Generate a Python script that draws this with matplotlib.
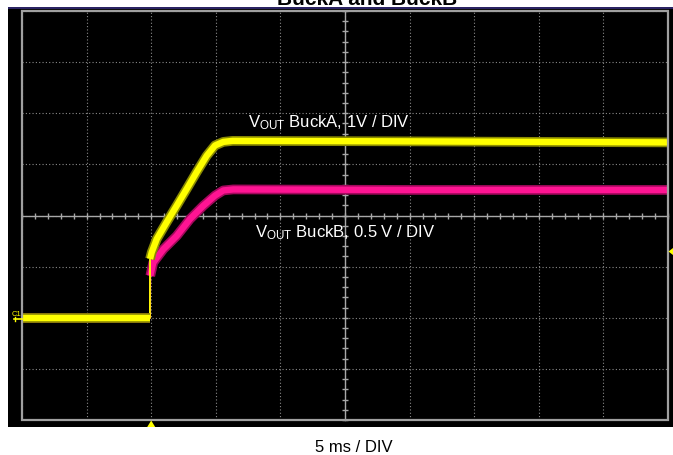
import matplotlib
matplotlib.use('Agg')
import matplotlib.pyplot as plt
from matplotlib.patches import Rectangle, Polygon
from matplotlib.ticker import MultipleLocator

plt.rcParams['font.family'] = ['Liberation Sans', 'DejaVu Sans']
plt.rcParams['mathtext.fontset'] = 'custom'
plt.rcParams['mathtext.rm'] = 'Liberation Sans'
plt.rcParams['mathtext.it'] = 'Liberation Sans:italic'
plt.rcParams['mathtext.bf'] = 'Liberation Sans:bold'

# ---- data (time in ms, amplitude in screen divisions) ----
title = "BuckA and BuckB"
x_label = "5 ms / DIV"
label_a = r"V$_{\mathrm{OUT}}$ BuckA, 1V / DIV"
label_b = r"V$_{\mathrm{OUT}}$ BuckB, 0.5 V / DIV"

time_a = [0.0, 9.90, 9.91, 10.04, 10.43, 11.20, 11.97, 12.75, 13.52, 14.30, 14.94, 15.58, 16.3, 30.0, 50.0]
buck_a = [-2.0, -2.0, -0.85, -0.72, -0.46, -0.13, 0.19, 0.52, 0.85, 1.17, 1.37, 1.44, 1.46, 1.45, 1.43]

time_b = [0.0, 9.90, 9.93, 10.16, 10.94, 11.97, 13.00, 14.03, 14.94, 15.58, 16.35, 30.0, 50.0]
buck_b = [-2.0, -2.0, -1.18, -0.92, -0.66, -0.40, -0.07, 0.19, 0.39, 0.49, 0.51, 0.50, 0.50]

trigger_time = 10.0

W, H = 673, 456
fig = plt.figure(figsize=(W / 100, H / 100), dpi=100)
fig.patch.set_facecolor('white')


def fx(px):
    return px / W


def fy(py):
    return 1 - py / H


# scope screen background and top bar
fig.add_artist(Rectangle((fx(8), fy(428)), fx(673) - fx(8), fy(9.5) - fy(428),
                         transform=fig.transFigure, facecolor='black', edgecolor='none', zorder=0))
fig.add_artist(Rectangle((fx(8), fy(9.6)), fx(673) - fx(8), 1.6 / H,
                         transform=fig.transFigure, facecolor='#2b2463', edgecolor='none', zorder=0))

ax = fig.add_axes([fx(22), fy(421), (668 - 22) / W, (421 - 12) / H])
ax.set_facecolor('black')
ax.set_xlim(0, 50)
ax.set_ylim(-4, 4)

# graticule
ax.xaxis.set_major_locator(MultipleLocator(5))
ax.xaxis.set_minor_locator(MultipleLocator(1))
ax.yaxis.set_major_locator(MultipleLocator(1))
ax.yaxis.set_minor_locator(MultipleLocator(0.2))
ax.grid(which='major', color='#8a8a8a', linestyle=(0, (1, 2)), linewidth=0.8, zorder=1)
for s in ['top', 'right']:
    ax.spines[s].set_visible(False)
ax.spines['left'].set_position(('data', 25))
ax.spines['bottom'].set_position(('data', 0))
for s in ['left', 'bottom']:
    ax.spines[s].set_color('#a8a8a8')
    ax.spines[s].set_linewidth(1.0)
    ax.spines[s].set_zorder(2)
ax.tick_params(which='both', direction='inout', length=5, width=1, color='#a8a8a8',
               labelbottom=False, labelleft=False)
ax.add_patch(Rectangle((0, 0), 1, 1, transform=ax.transAxes, fill=False,
                       edgecolor='#a0a0a0', lw=1.6, zorder=6, clip_on=False))


def draw_trace(t, v, core, edge, z):
    # slow parts drawn as a thick noisy-looking band, the fast edge as a thin line
    ax.plot(t[1:3], v[1:3], color=core, lw=1.3, zorder=z)
    for seg_t, seg_v in [(t[:2], v[:2]), (t[2:], v[2:])]:
        ax.plot(seg_t, seg_v, color=edge, lw=7, zorder=z, solid_capstyle='butt')
        ax.plot(seg_t, seg_v, color=core, lw=4.6, zorder=z + 0.1, solid_capstyle='butt')


draw_trace(time_b, buck_b, '#ff1493', '#a3085c', 3)
draw_trace(time_a, buck_a, '#ffff00', '#8a8a00', 4)

# labels
fig.text(fx(248), fy(127), label_a, color='white', fontsize=12, va='baseline')
fig.text(fx(255), fy(237), label_b, color='white', fontsize=12, va='baseline')
fig.text(fx(367), fy(5), title, ha='center', va='baseline', fontsize=15, fontweight='bold', color='black')
fig.text(fx(354), fy(452), x_label, ha='center', va='baseline', fontsize=12, color='black')

# channel marker C1
fig.text(fx(12), fy(316.5), "C1", color='#ffff00', fontsize=5.5, va='baseline')
fig.add_artist(plt.Line2D([fx(14), fx(22)], [fy(319.5), fy(319.5)], transform=fig.transFigure,
                          color='#ffff00', lw=1.2))
fig.add_artist(plt.Line2D([fx(14.5), fx(14.5)], [fy(318), fy(322)], transform=fig.transFigure,
                          color='#ffff00', lw=1.0))

# trigger markers
tx = 22 + trigger_time / 50 * (668 - 22)
fig.add_artist(Polygon([(fx(tx - 4), fy(428)), (fx(tx + 4), fy(428)), (fx(tx), fy(421.5))],
                       closed=True, transform=fig.transFigure, facecolor='#ffff00', edgecolor='none', zorder=7))
fig.add_artist(Polygon([(fx(673), fy(249)), (fx(673), fy(256)), (fx(668.5), fy(252.5))],
                       closed=True, transform=fig.transFigure, facecolor='#ffff00', edgecolor='none', zorder=7))

fig.savefig('out.png', dpi=100)
